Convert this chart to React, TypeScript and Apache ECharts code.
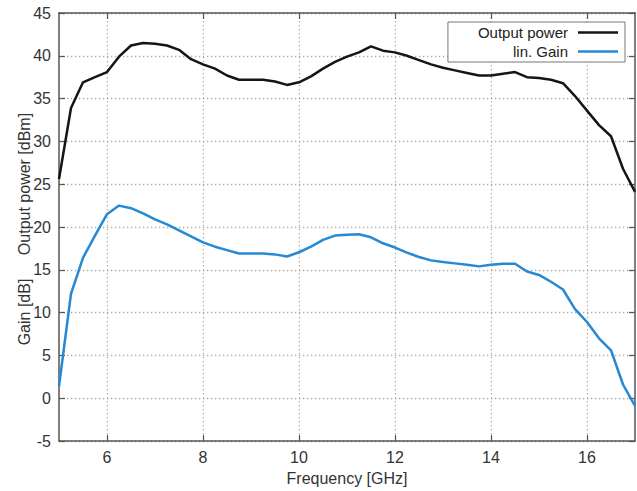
import React, { useEffect, useRef } from "react";
import * as echarts from "echarts";

// Frequency sweep points [GHz]
const frequency = [
  5.0, 5.25, 5.5, 5.75, 6.0, 6.25, 6.5, 6.75, 7.0, 7.25, 7.5, 7.75, 8.0, 8.25,
  8.5, 8.75, 9.0, 9.25, 9.5, 9.75, 10.0, 10.25, 10.5, 10.75, 11.0, 11.25, 11.5,
  11.75, 12.0, 12.25, 12.5, 12.75, 13.0, 13.25, 13.5, 13.75, 14.0, 14.25, 14.5,
  14.75, 15.0, 15.25, 15.5, 15.75, 16.0, 16.25, 16.5, 16.75, 17.0,
];

// Saturated output power [dBm]
const outputPower = [
  25.6, 33.9, 36.9, 37.5, 38.1, 39.9, 41.2, 41.5, 41.4, 41.2, 40.7, 39.6, 39.0,
  38.5, 37.7, 37.2, 37.2, 37.2, 37.0, 36.6, 36.9, 37.6, 38.5, 39.3, 39.9, 40.4,
  41.1, 40.6, 40.4, 40.0, 39.5, 39.0, 38.6, 38.3, 38.0, 37.7, 37.7, 37.9, 38.1,
  37.5, 37.4, 37.2, 36.8, 35.3, 33.6, 31.9, 30.6, 26.8, 24.1,
];

// Small-signal (linear) gain [dB]
const linGain = [
  1.4, 12.2, 16.4, 19.0, 21.5, 22.5, 22.2, 21.6, 20.9, 20.3, 19.6, 18.9, 18.2,
  17.7, 17.3, 16.9, 16.9, 16.9, 16.8, 16.55, 17.05, 17.7, 18.5, 19.0, 19.1,
  19.15, 18.8, 18.1, 17.6, 17.0, 16.5, 16.1, 15.9, 15.75, 15.6, 15.4, 15.6,
  15.7, 15.7, 14.8, 14.4, 13.6, 12.7, 10.4, 8.9, 7.0, 5.6, 1.6, -0.9,
];

const xTicks = [6, 8, 10, 12, 14, 16];

const FONT = "'Liberation Sans', Arial, Helvetica, sans-serif";
const FRAME = "#555";
const TEXT = "#333";

export default function App() {
  const ref = useRef<HTMLDivElement>(null);

  useEffect(() => {
    if (!ref.current) return;
    const chart = echarts.init(ref.current, undefined, { renderer: "svg" });

    const frameLine = { show: true, onZero: false, lineStyle: { color: FRAME, width: 1.5 } };
    const tick = { show: true, inside: true, length: 6, lineStyle: { color: FRAME, width: 1.2 } };
    const grid = { show: true, lineStyle: { color: "#a8a8a8", width: 1.3, type: [1.3, 2.7] } };

    chart.setOption({
      animation: false,
      backgroundColor: "#fff",
      textStyle: { fontFamily: FONT },
      grid: { left: 59, right: 2, top: 13, bottom: 48, containLabel: false },
      legend: {
        orient: "vertical",
        right: 12,
        top: 22,
        align: "right",
        icon: "rect",
        itemWidth: 40,
        itemHeight: 2.5,
        itemGap: 4,
        padding: [3, 7, 3, 30],
        borderColor: "#777",
        borderWidth: 1,
        borderRadius: 0,
        backgroundColor: "#fff",
        textStyle: { fontSize: 15, color: "#222", fontFamily: FONT, padding: [0, 5, 0, 0] },
        data: ["Output power", "lin. Gain"],
      },
      xAxis: [
        {
          type: "value",
          min: 5,
          max: 17,
          position: "bottom",
          axisLine: frameLine,
          axisTick: { ...tick, customValues: xTicks },
          axisLabel: { customValues: xTicks, fontSize: 16, color: TEXT, margin: 8, fontFamily: FONT },
          splitLine: grid,
          name: "Frequency [GHz]",
          nameLocation: "middle",
          nameGap: 29,
          nameTextStyle: { fontSize: 16, color: TEXT, fontFamily: FONT },
        },
        {
          type: "value",
          min: 5,
          max: 17,
          position: "top",
          axisLine: frameLine,
          axisTick: { ...tick, customValues: xTicks },
          axisLabel: { show: false },
          splitLine: { show: false },
        },
      ],
      yAxis: [
        {
          type: "value",
          min: -5,
          max: 45,
          interval: 5,
          position: "left",
          axisLine: frameLine,
          axisTick: tick,
          axisLabel: { fontSize: 16, color: TEXT, margin: 8, fontFamily: FONT },
          splitLine: grid,
        },
        {
          type: "value",
          min: -5,
          max: 45,
          interval: 5,
          position: "right",
          axisLine: frameLine,
          axisTick: tick,
          axisLabel: { show: false },
          splitLine: { show: false },
        },
      ],
      graphic: [
        {
          type: "text",
          x: 24,
          y: 184,
          rotation: Math.PI / 2,
          style: {
            text: "Output power [dBm]",
            font: `16px ${FONT}`,
            fill: TEXT,
            textAlign: "center",
            textVerticalAlign: "middle",
          },
        },
        {
          type: "text",
          x: 24,
          y: 312,
          rotation: Math.PI / 2,
          style: {
            text: "Gain [dB]",
            font: `16px ${FONT}`,
            fill: TEXT,
            textAlign: "center",
            textVerticalAlign: "middle",
          },
        },
      ],
      series: [
        {
          name: "Output power",
          type: "line",
          xAxisIndex: 0,
          yAxisIndex: 0,
          symbol: "none",
          lineStyle: { color: "#151515", width: 2.5 },
          itemStyle: { color: "#151515" },
          data: frequency.map((f, i) => [f, outputPower[i]]),
        },
        {
          name: "lin. Gain",
          type: "line",
          xAxisIndex: 0,
          yAxisIndex: 0,
          symbol: "none",
          lineStyle: { color: "#2589d4", width: 2.5 },
          itemStyle: { color: "#2589d4" },
          data: frequency.map((f, i) => [f, linGain[i]]),
        },
      ],
    });

    return () => chart.dispose();
  }, []);

  return (
    <div
      ref={ref}
      style={{ position: "fixed", left: 0, top: 0, width: 637, height: 491, background: "#fff" }}
    />
  );
}
